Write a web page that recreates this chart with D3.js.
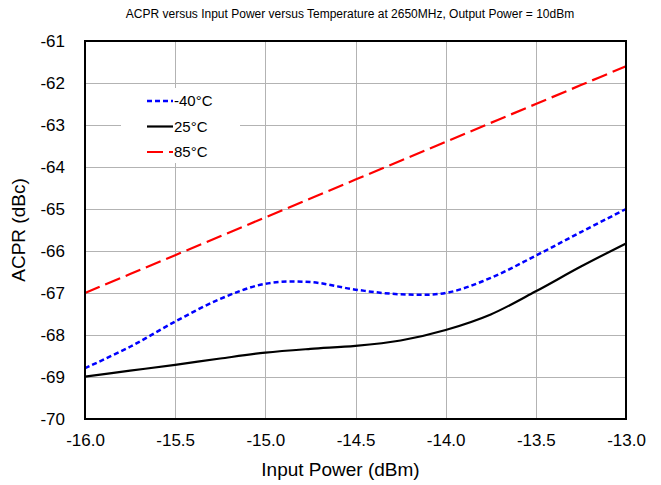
<!DOCTYPE html>
<html lang='en'>
  <head>
    <meta charset='utf-8'>
    <title>ACPR vs Input Power</title>
    <script type='text/javascript' src='https://cdn.jsdelivr.net/npm/d3@7'></script>
    <style type='text/css'>
      body { margin: 0; background: white; font-family: 'Liberation Sans', Arial, sans-serif; }
      svg { background-color: white; display: block; }
      .grid line { stroke: #b3b3b3; stroke-width: 1; shape-rendering: crispEdges; }
      .tick text { font-size: 17px; fill: #000; }
    </style>
  </head>
  <body>
    <div id='chart'></div>
    <script type='text/javascript'>

    // data
    var inputPower = [-16.0, -15.75, -15.5, -15.25, -15.0, -14.75, -14.5, -14.25, -14.0, -13.75, -13.5, -13.25, -13.0];
    var acprM40 = [-68.79, -68.28, -67.68, -67.14, -66.78, -66.74, -66.92, -67.03, -67.0, -66.64, -66.11, -65.55, -65.0];
    var acpr25  = [-68.99, -68.85, -68.71, -68.56, -68.42, -68.33, -68.26, -68.13, -67.88, -67.51, -66.96, -66.37, -65.82];
    var acpr85  = [-67.0, -66.55, -66.1, -65.65, -65.2, -64.75, -64.3, -63.85, -63.4, -62.95, -62.5, -62.05, -61.6];
    var xTicks = [-16.0, -15.5, -15.0, -14.5, -14.0, -13.5, -13.0];
    var yTicks = [-70, -69, -68, -67, -66, -65, -64, -63, -62, -61];
    var seriesNames = ['-40°C', '25°C', '85°C'];

    var W = 661, H = 485;
    var margin = { top: 41, right: 35, bottom: 66, left: 85 },
        width = W - margin.left - margin.right,
        height = H - margin.top - margin.bottom;

    var svg = d3.select('#chart').append('svg')
        .attr('width', W)
        .attr('height', H);

    svg.append('text')
      .attr('x', 350).attr('y', 18)
      .attr('text-anchor', 'middle')
      .style('font-size', '12px')
      .text('ACPR versus Input Power versus Temperature at 2650MHz, Output Power = 10dBm');

    var g = svg.append('g')
        .attr('transform', 'translate(' + margin.left + ',' + margin.top + ')');

    var x = d3.scaleLinear().domain([-16, -13]).range([0, width]);
    var y = d3.scaleLinear().domain([-70, -61]).range([height, 0]);

    // gridlines
    g.append('g').attr('class', 'grid')
      .selectAll('line').data(xTicks.slice(1, -1)).enter().append('line')
      .attr('x1', function(d) { return Math.round(x(d)) + 0.5; })
      .attr('x2', function(d) { return Math.round(x(d)) + 0.5; })
      .attr('y1', 0).attr('y2', height);
    g.append('g').attr('class', 'grid')
      .selectAll('line').data(yTicks.slice(1, -1)).enter().append('line')
      .attr('y1', function(d) { return Math.round(y(d)) + 0.5; })
      .attr('y2', function(d) { return Math.round(y(d)) + 0.5; })
      .attr('x1', 0).attr('x2', width);

    // axes (labels only)
    var xAxis = d3.axisBottom(x).tickValues(xTicks).tickSize(0).tickPadding(15);
    var yAxis = d3.axisLeft(y).tickValues(yTicks).tickSize(0).tickPadding(20);
    var gx = g.append('g').attr('transform', 'translate(0,' + height + ')').call(xAxis);
    var gy = g.append('g').call(yAxis);
    gx.select('.domain').remove();
    gy.select('.domain').remove();
    gx.selectAll('text').text(function(d) { return d.toFixed(1); });
    gy.selectAll('text').text(function(d) { return String(d); });

    // legend background box hides gridlines behind it
    var legend = g.append('g');
    legend.append('rect')
      .attr('x', 36).attr('y', 47).attr('width', 119).attr('height', 75)
      .attr('fill', 'white');

    var line = d3.line()
      .x(function(d) { return x(d[0]); })
      .y(function(d) { return y(d[1]); })
      .curve(d3.curveCatmullRom.alpha(0.5));

    var series = [
      { vals: acprM40, color: '#0000ff', dash: '5,3', w: 2.5 },
      { vals: acpr25, color: '#000000', dash: null, w: 2.2 },
      { vals: acpr85, color: '#ff0000', dash: '16,6', w: 2.2 }
    ];

    g.selectAll('.series').data(series).enter().append('path')
      .attr('class', 'series')
      .attr('fill', 'none')
      .attr('stroke', function(d) { return d.color; })
      .attr('stroke-width', function(d) { return d.w; })
      .attr('stroke-dasharray', function(d) { return d.dash; })
      .attr('d', function(d) { return line(d.vals.map(function(v, i) { return [inputPower[i], v]; })); });

    // legend entries
    series.forEach(function(s, i) {
      var ly = 60 + i * 25.5;
      legend.append('line')
        .attr('x1', 62).attr('x2', 88).attr('y1', ly).attr('y2', ly)
        .attr('stroke', s.color).attr('stroke-width', s.w)
        .attr('stroke-dasharray', s.dash);
      legend.append('text')
        .attr('x', 89).attr('y', ly + 5)
        .style('font-size', '15px')
        .text(seriesNames[i]);
    });

    // plot frame
    g.append('rect')
      .attr('x', 0).attr('y', 0).attr('width', width).attr('height', height)
      .attr('fill', 'none').attr('stroke', '#000').attr('stroke-width', 2);

    // axis titles
    svg.append('text')
      .attr('x', margin.left + width / 2 - 15).attr('y', 476)
      .attr('text-anchor', 'middle')
      .style('font-size', '19px')
      .text('Input Power (dBm)');
    svg.append('text')
      .attr('transform', 'translate(25,' + (margin.top + height / 2) + ') rotate(-90)')
      .attr('text-anchor', 'middle')
      .style('font-size', '19px')
      .text('ACPR (dBc)');

    </script>
  </body>
</html>
